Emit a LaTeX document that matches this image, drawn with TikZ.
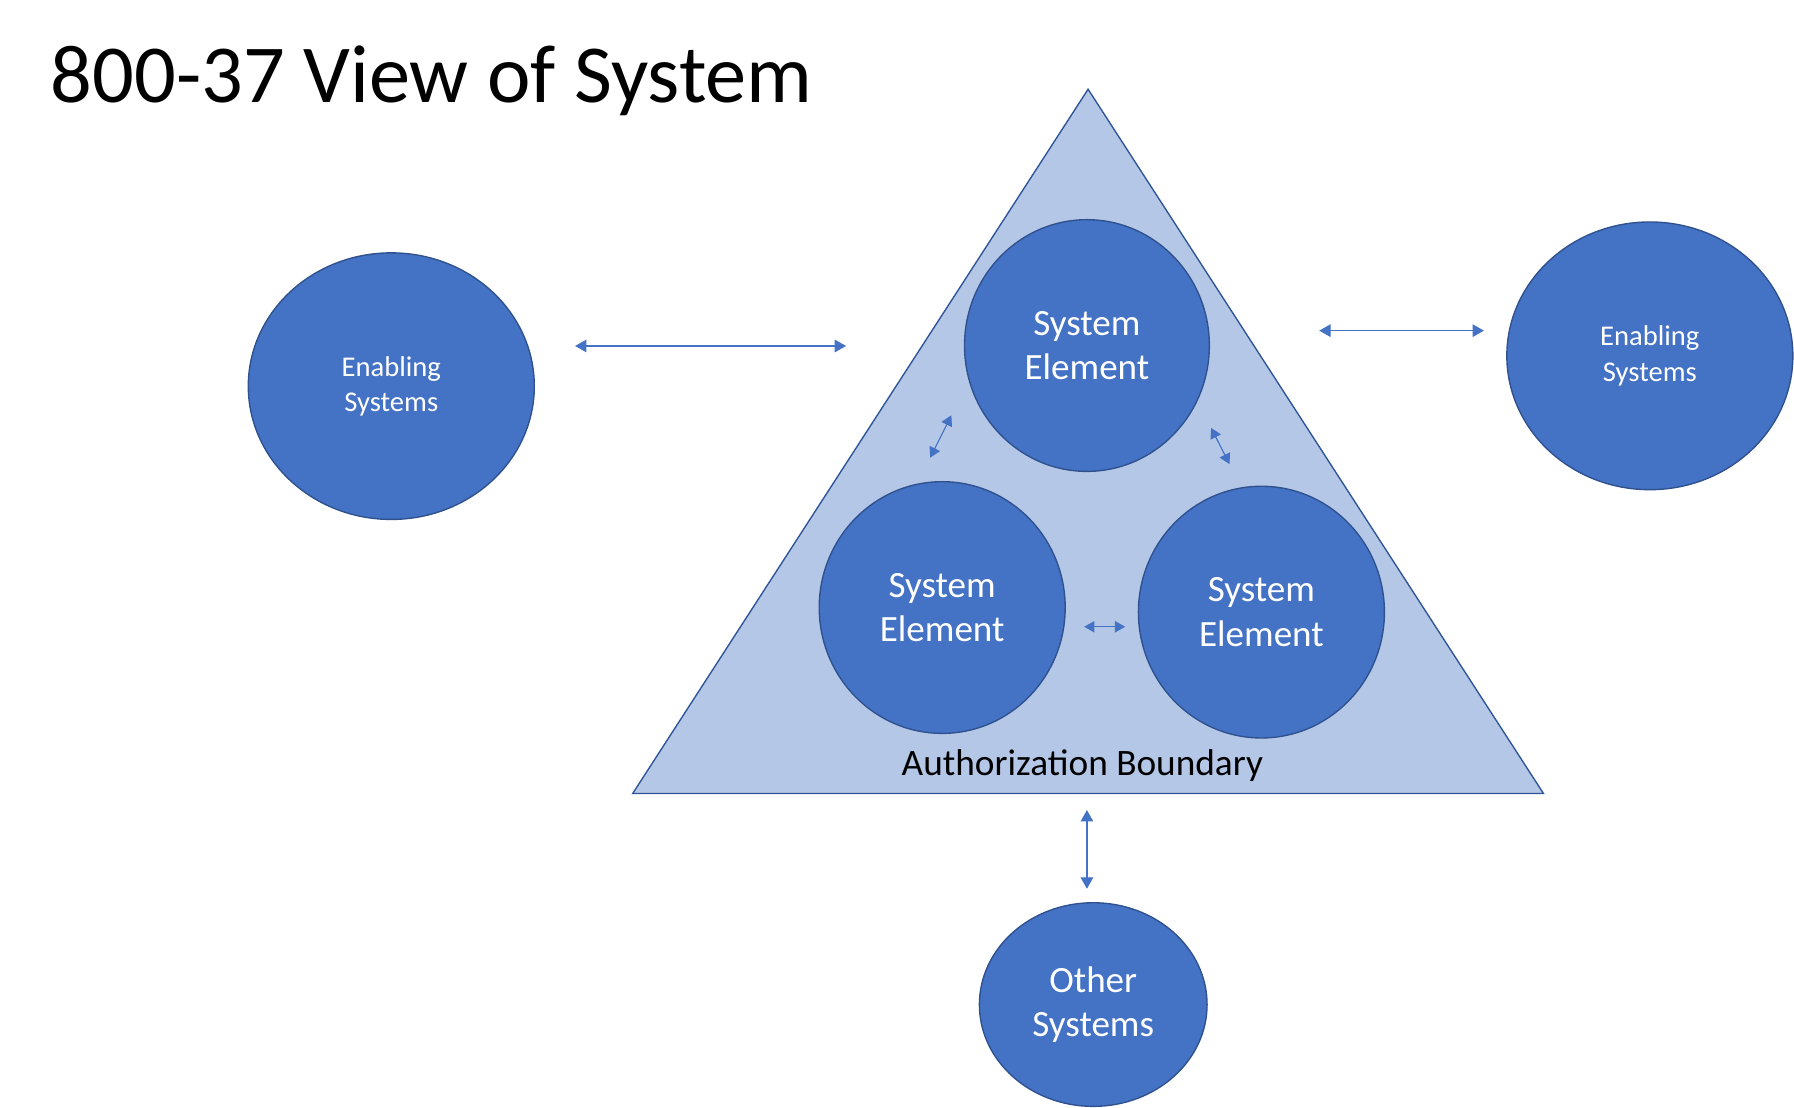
\documentclass[tikz,border=0pt]{standalone}
\usepackage{fontspec}
\setmainfont{Carlito}
\usetikzlibrary{shapes.geometric,arrows.meta}
\definecolor{elfill}{HTML}{4472C4}
\definecolor{eldraw}{HTML}{2F528F}
\definecolor{trifill}{HTML}{B4C7E7}
\definecolor{tridraw}{HTML}{2F5597}
\definecolor{arrcol}{HTML}{4472C4}
\tikzset{
  elem/.style={ellipse, fill=elfill, draw=eldraw, line width=0.6pt, text=white, align=center, inner sep=0pt,
    font=\fontsize{16.2pt}{19.5pt}\selectfont},
  enab/.style={elem, font=\fontsize{12.5pt}{15.5pt}\selectfont},
  bigarrow/.style={draw=arrcol, line width=0.55pt, {Triangle[length=5pt,width=5.5pt]}-{Triangle[length=5pt,width=5.5pt]}},
  smallarrow/.style={draw=arrcol, line width=0.5pt, {Triangle[length=4.5pt,width=5pt]}-{Triangle[length=4.5pt,width=5pt]}}
}
\begin{document}
\begin{tikzpicture}[x=0.5pt,y=-0.5pt]
\useasboundingbox (0,0) rectangle (1568,968);
\fill[white] (0,0) rectangle (1568,968);
% title
\node[anchor=base west, inner sep=0pt, font=\fontsize{36pt}{44pt}\selectfont] (title) at (44,90) {800-37 View of System};
% authorization boundary triangle
\coordinate (apex) at (951,78);
\coordinate (bl) at (553,693.5);
\coordinate (br) at (1349,693.5);
\draw[fill=trifill, draw=tridraw, line width=0.6pt] (apex) -- (br) -- (bl) -- cycle;
\node[anchor=base, inner sep=0pt, font=\fontsize{16.3pt}{19pt}\selectfont] (ab) at (946,678) {Authorization Boundary};
% elements
\node[elem, minimum width=107pt, minimum height=110pt] (se1) at (950,302) {System\\Element};
\node[elem, minimum width=107.5pt, minimum height=110pt] (se2) at (823.5,531) {System\\Element};
\node[elem, minimum width=107.5pt, minimum height=110pt] (se3) at (1102.5,535) {System\\Element};
\node[enab, minimum width=125pt, minimum height=116.5pt] (en1) at (342,337.5) {Enabling\\Systems};
\node[enab, minimum width=125pt, minimum height=117pt] (en2) at (1442,311) {Enabling\\Systems};
\node[elem, minimum width=99.5pt, minimum height=89pt] (oth) at (955.5,878) {Other\\Systems};
% connector end points
\coordinate (la) at (502.6,302.4);
\coordinate (lb) at (739.5,302.4);
\coordinate (ra) at (1153,289);
\coordinate (rb) at (1297,289);
\coordinate (va) at (950,708);
\coordinate (vb) at (950,776.8);
\coordinate (ula) at (831.5,363);
\coordinate (ulb) at (813,400);
\coordinate (ura) at (1058.5,374);
\coordinate (urb) at (1074.6,405.6);
\coordinate (ma) at (947.6,547.8);
\coordinate (mb) at (983.4,547.8);
\draw[bigarrow] (la) -- (lb);
\draw[bigarrow] (ra) -- (rb);
\draw[bigarrow] (va) -- (vb);
\draw[smallarrow] (ula) -- (ulb);
\draw[smallarrow] (ura) -- (urb);
\draw[smallarrow] (ma) -- (mb);
\end{tikzpicture}
\end{document}
